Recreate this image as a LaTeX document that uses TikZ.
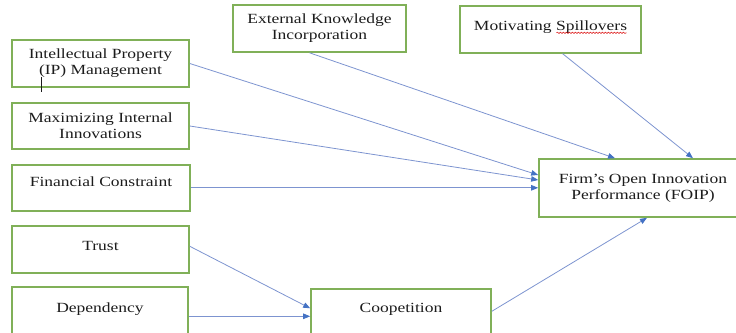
\documentclass[tikz,border=0pt]{standalone}
\usepackage{fontspec}
\setmainfont{Liberation Serif}[FakeStretch=1.25]
\usetikzlibrary{arrows.meta,decorations.pathmorphing}

\definecolor{boxgreen}{RGB}{128,176,88}
\definecolor{linkblue}{RGB}{125,148,208}
\definecolor{tipblue}{RGB}{68,114,196}
\definecolor{textdark}{RGB}{28,28,28}

\begin{document}
\begin{tikzpicture}[x=1pt,y=-1pt,
  box/.style={draw=boxgreen, line width=1.6pt, fill=white,
    font=\fontsize{14}{16}\selectfont, text=textdark, inner xsep=0pt},
  twoline/.style={box, align=center},
  oneline/.style={box, anchor=north, inner ysep=0pt},
  link/.style={draw=linkblue, line width=0.8pt,
    -{Triangle[length=7pt,width=5.5pt,color=tipblue,fill=tipblue]}}]

\useasboundingbox (0,0) rectangle (736,332);
\clip (0,0) rectangle (736,332);

% left column of determinants
\node[twoline, minimum width=177pt, minimum height=47pt] (ip) at (100.5,63.5)
  {Intellectual Property\\(IP) Management};
\node[twoline, minimum width=177pt, minimum height=46pt] (max) at (100.5,126)
  {Maximizing Internal\\Innovations};
\node[oneline, minimum width=178pt, text height=22pt, text depth=24pt] (fin) at (101,164)
  {Financial Constraint};
\node[oneline, minimum width=177pt, text height=25pt, text depth=22pt] (trust) at (100.5,225)
  {Trust};
\node[oneline, minimum width=176pt, text height=26pt, text depth=33pt] (dep) at (100,286)
  {Dependency};

% top row
\node[twoline, minimum width=173pt, minimum height=47pt] (ext) at (319.5,28.5)
  {External Knowledge\\Incorporation};
\node[oneline, minimum width=181pt, text height=25pt, text depth=22pt] (motiv) at (550.5,5)
  {Motivating Spillovers};

% mediator and outcome
\node[oneline, minimum width=180pt, text height=24pt, text depth=33pt] (coop) at (401,288)
  {Coopetition};
\node[twoline, minimum width=208pt, minimum height=58pt] (foip) at (643,188)
  {Firm’s Open Innovation\\Performance (FOIP)};

% wavy spell-check underline and text cursor
\draw[red!85!black, line width=0.5pt,
  decorate, decoration={snake, amplitude=0.7pt, segment length=3pt}]
  ([xshift=6pt,yshift=-2pt]motiv.base) -- ([xshift=76pt,yshift=-2pt]motiv.base);
\draw[textdark, line width=0.6pt] (41,77) -- (41,92);

% paths into FOIP
\draw[link] (ip.east) -- ([yshift=13pt]foip.west);
\draw[link] (max.east) -- ([yshift=8pt]foip.west);
\draw[link] (fin.east) -- (fin.east -| foip.west);
\draw[link] ([xshift=-10pt]ext.south) -- ([xshift=-28pt]foip.north);
\draw[link] ([xshift=12pt]motiv.south) -- ([xshift=50pt]foip.north);
\draw[link] ([yshift=6pt]coop.east) -- ([xshift=4pt]foip.south);

% paths into coopetition
\draw[link] ([yshift=3pt]trust.east) -- ([yshift=9pt]coop.west);
\draw[link] (dep.east) -- (dep.east -| coop.west);
\end{tikzpicture}
\end{document}
